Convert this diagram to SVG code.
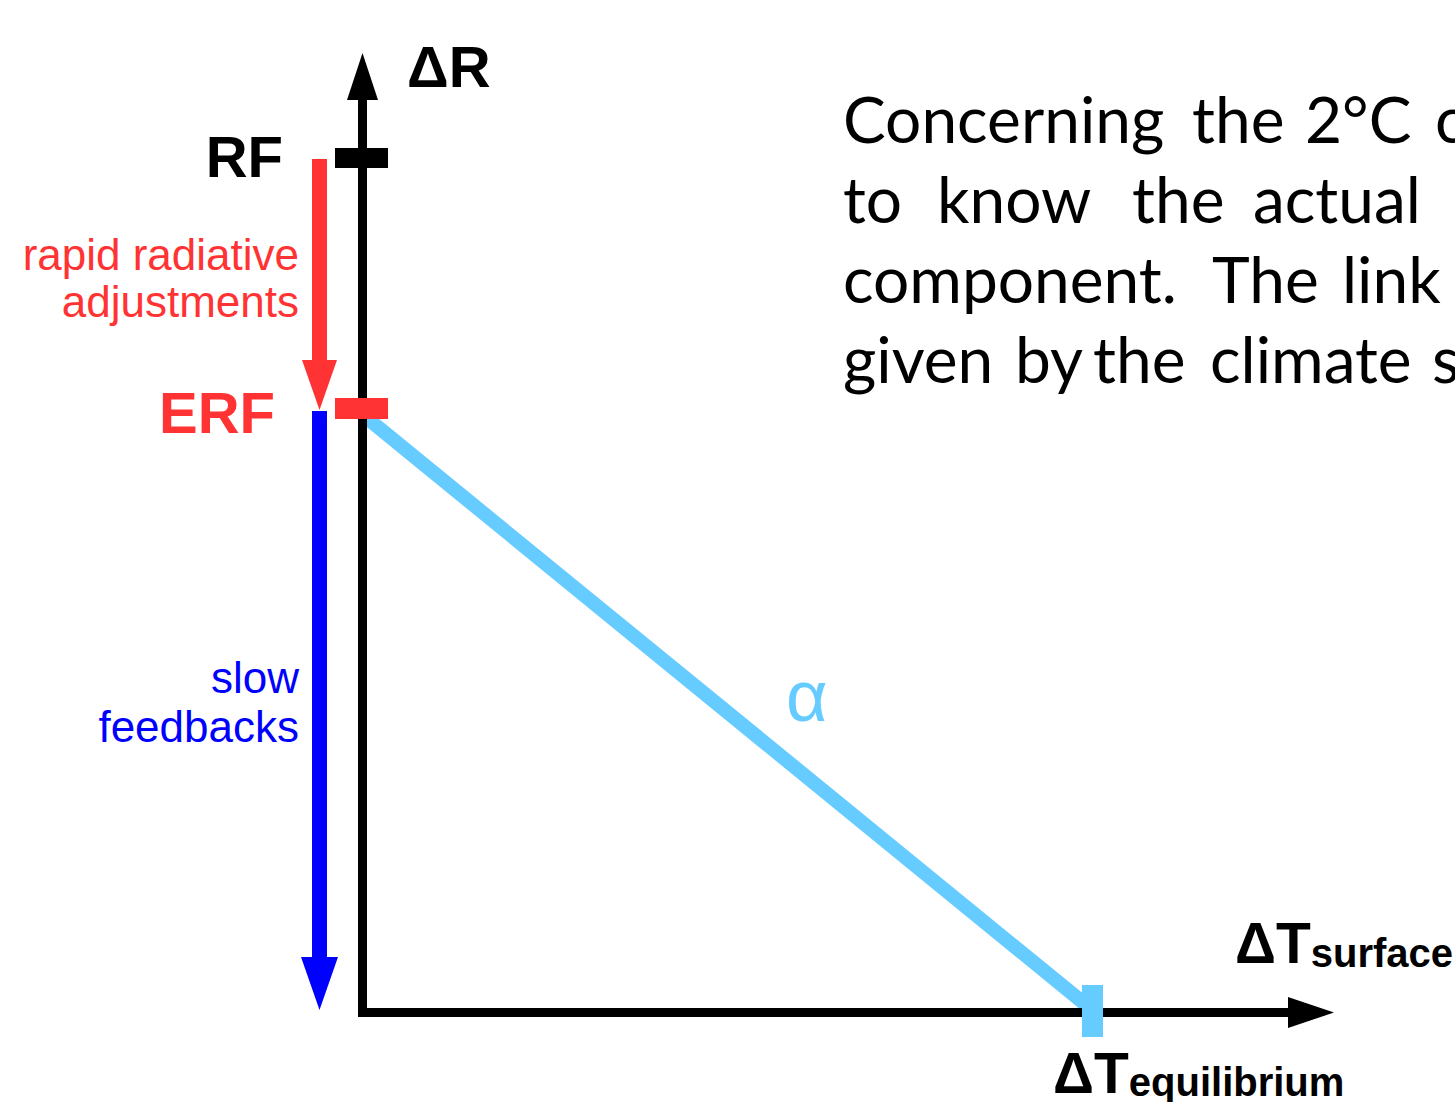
<svg xmlns="http://www.w3.org/2000/svg" width="1455" height="1102" viewBox="0 0 1455 1102">
<style>
.lbl{font-family:"Liberation Sans",Arial,sans-serif;}
.b{font-weight:bold;}
.par{font-family:Lato,"Noto Sans",sans-serif;font-size:64px;fill:#000;}
</style>
<rect width="1455" height="1102" fill="#fff"/>
<g id="connectors">
  <!-- slope line -->
  <line x1="362" y1="414" x2="1091" y2="1009" stroke="#66ccff" stroke-width="14"/>
  <!-- vertical axis -->
  <rect x="358" y="98" width="9" height="919" fill="#000"/>
  <polygon points="347,100 378,100 362.5,53" fill="#000"/>
  <!-- horizontal axis -->
  <rect x="358" y="1008" width="932" height="9" fill="#000"/>
  <polygon points="1288,997 1288,1028 1334,1012.5" fill="#000"/>
  <!-- red arrow -->
  <rect x="312" y="159" width="15" height="203" fill="#ff3333"/>
  <polygon points="302,360 337,360 319.5,410" fill="#ff3333"/>
  <!-- blue arrow -->
  <rect x="312" y="411" width="15" height="548" fill="#0000ff"/>
  <polygon points="301,957 338,957 319.5,1010" fill="#0000ff"/>
</g>
<g id="RF">
  <rect x="335" y="148" width="53" height="20" fill="#000"/>
  <text class="lbl b" x="283" y="177" font-size="58" text-anchor="end" fill="#000">RF</text>
</g>
<g id="ERF">
  <rect x="335" y="398" width="53" height="21" fill="#ff3333"/>
  <text class="lbl b" x="275" y="433" font-size="58" text-anchor="end" fill="#ff3333">ERF</text>
</g>
<g id="dR">
  <text class="lbl b" x="407" y="87" font-size="58" fill="#000">ΔR</text>
</g>
<g id="rapid">
  <text class="lbl" x="299" y="270" font-size="44" text-anchor="end" fill="#ff3333">rapid radiative</text>
  <text class="lbl" x="299" y="317" font-size="44" text-anchor="end" fill="#ff3333">adjustments</text>
</g>
<g id="slow">
  <text class="lbl" x="299" y="693" font-size="44" text-anchor="end" fill="#0000ff">slow</text>
  <text class="lbl" x="299" y="742" font-size="44" text-anchor="end" fill="#0000ff">feedbacks</text>
</g>
<g id="alpha">
  <text class="lbl" x="786" y="721" font-size="72" fill="#66ccff">α</text>
</g>
<g id="Teq">
  <rect x="1082" y="985" width="21" height="52" fill="#66ccff"/>
  <text class="lbl b" x="1053" y="1093" fill="#000"><tspan font-size="57">ΔT</tspan><tspan font-size="40" dy="3">equilibrium</tspan></text>
</g>
<g id="Tsurf">
  <text class="lbl b" x="1235" y="963" fill="#000"><tspan font-size="57">ΔT</tspan><tspan font-size="40" dy="4">surface</tspan></text>
</g>
<g id="paragraph">
  <text class="par" y="143"><tspan x="843">Concerning </tspan><tspan x="1192">the </tspan><tspan x="1305">2°C </tspan><tspan x="1435">c</tspan></text>
  <text class="par" y="223"><tspan x="843">to </tspan><tspan x="937">know </tspan><tspan x="1132">the </tspan><tspan x="1253">actual</tspan></text>
  <text class="par" y="303"><tspan x="843">component. </tspan><tspan x="1212">The </tspan><tspan x="1342">link</tspan></text>
  <text class="par" y="383"><tspan x="843">given </tspan><tspan x="1015">by </tspan><tspan x="1093">the </tspan><tspan x="1210">climate </tspan><tspan x="1432">s</tspan></text>
</g>
</svg>
